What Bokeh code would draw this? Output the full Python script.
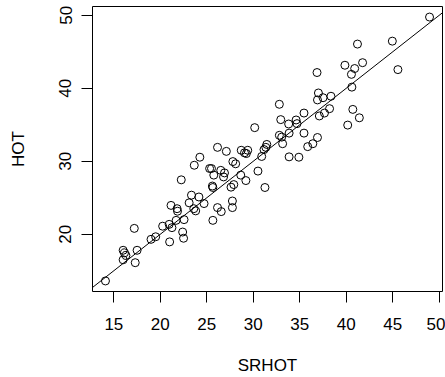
from bokeh.plotting import figure
from bokeh.models import Range1d, FixedTicker, Slope
from bokeh.embed import file_html
from bokeh.resources import INLINE

srhot = [14.1, 16.0, 16.15, 16.3, 16.0, 17.5, 17.3, 17.2, 19.0, 19.5,
         20.25, 20.95, 21.25, 21.0, 21.15, 21.8, 21.85, 21.7, 22.4, 22.5,
         22.55, 22.25,
         23.1, 23.35, 23.6, 23.8, 24.15, 24.7, 23.65, 24.25, 25.3, 25.5,
         25.75, 25.6, 25.65, 25.65, 26.15, 26.55, 26.15, 26.5, 26.9, 26.8,
         27.1, 27.8, 28.1, 28.65, 29.2, 27.9, 27.6, 27.75, 27.75, 28.7,
         29.05, 29.4, 29.25, 30.5, 31.25, 30.15, 30.9, 31.15, 31.35, 31.45,
         32.8, 32.95, 33.8, 34.6, 34.7, 35.45, 32.8, 33.05, 33.85, 35.45,
         33.15, 35.85, 36.4, 36.9, 33.85, 34.9, 36.85, 37.0, 36.9, 37.5,
         38.35, 38.2, 37.65, 37.1,
         39.85, 40.9, 41.75, 40.55, 40.6, 40.7, 41.4, 40.15, 41.2, 44.95,
         45.55, 48.95]
hot = [13.6, 17.8, 17.45, 17.1, 16.5, 17.8, 16.1, 20.8, 19.3, 19.65,
       21.1, 21.35, 20.9, 18.95, 23.95, 23.5, 23.15, 21.9, 20.3, 19.45,
       22.0, 27.45,
       24.3, 25.35, 23.5, 23.2, 25.1, 24.2, 29.45, 30.55, 29.0, 29.0,
       28.1, 26.6, 26.4, 21.9, 23.65, 23.1, 31.9, 28.75, 28.4, 27.85,
       31.35, 29.95, 29.65, 28.1, 27.35, 26.8, 26.45, 24.55, 23.65, 31.5,
       31.15, 31.5, 31.05, 28.65, 26.4, 34.6, 30.65, 31.6, 31.9, 32.3,
       37.8, 35.7, 35.1, 35.65, 35.15, 36.6, 33.55, 33.3, 33.85, 33.85,
       32.4, 32.0, 32.4, 33.25, 30.6, 30.55, 42.15, 39.35, 38.4, 38.7,
       38.9, 37.2, 36.6, 36.2,
       43.15, 42.7, 43.5, 41.9, 40.15, 37.1, 35.95, 34.95, 46.05, 46.45,
       42.55, 49.75]

x_ticks = [15, 20, 25, 30, 35, 40, 45, 50]
y_ticks = [20, 30, 40, 50]
line_intercept = 0.0
line_slope = 1.0

def padded(vals):
    lo, hi = min(vals), max(vals)
    d = 0.04 * (hi - lo)
    return lo - d, hi + d

x0, x1 = padded(srhot)
y0, y1 = padded(hot)

FONT = "Liberation Sans"

p = figure(width=445, height=377, output_backend="svg", toolbar_location=None,
           x_range=Range1d(x0, x1), y_range=Range1d(y0, y1),
           min_border_left=92, min_border_right=3, min_border_top=6,
           min_border_bottom=86)
p.background_fill_color = "white"
p.border_fill_color = "white"
p.grid.visible = False
p.outline_line_color = "black"
p.outline_line_width = 1

p.scatter(srhot, hot, size=8, fill_color=None, line_color="black", line_width=1)
p.add_layout(Slope(gradient=line_slope, y_intercept=line_intercept,
                   line_color="black", line_width=1))

for ax in (p.xaxis[0], p.yaxis[0]):
    ax.axis_line_color = None
    ax.major_tick_line_color = "black"
    ax.major_tick_in = 0
    ax.major_tick_out = 11
    ax.minor_tick_line_color = None
    ax.major_label_text_font = FONT
    ax.major_label_text_font_size = "17px"
    ax.major_label_text_color = "black"
    ax.axis_label_text_font = FONT
    ax.axis_label_text_font_size = "17px"
    ax.axis_label_text_font_style = "normal"
    ax.axis_label_text_color = "black"

p.xaxis.ticker = FixedTicker(ticks=x_ticks)
p.yaxis.ticker = FixedTicker(ticks=y_ticks)
p.xaxis.axis_label = "SRHOT"
p.yaxis.axis_label = "HOT"
p.xaxis.major_label_standoff = 15
p.xaxis.axis_label_standoff = 23
p.yaxis.major_label_orientation = "vertical"
p.yaxis.major_label_standoff = 10
p.yaxis.axis_label_standoff = 29

open("out.html", "w").write(file_html(p, INLINE))
